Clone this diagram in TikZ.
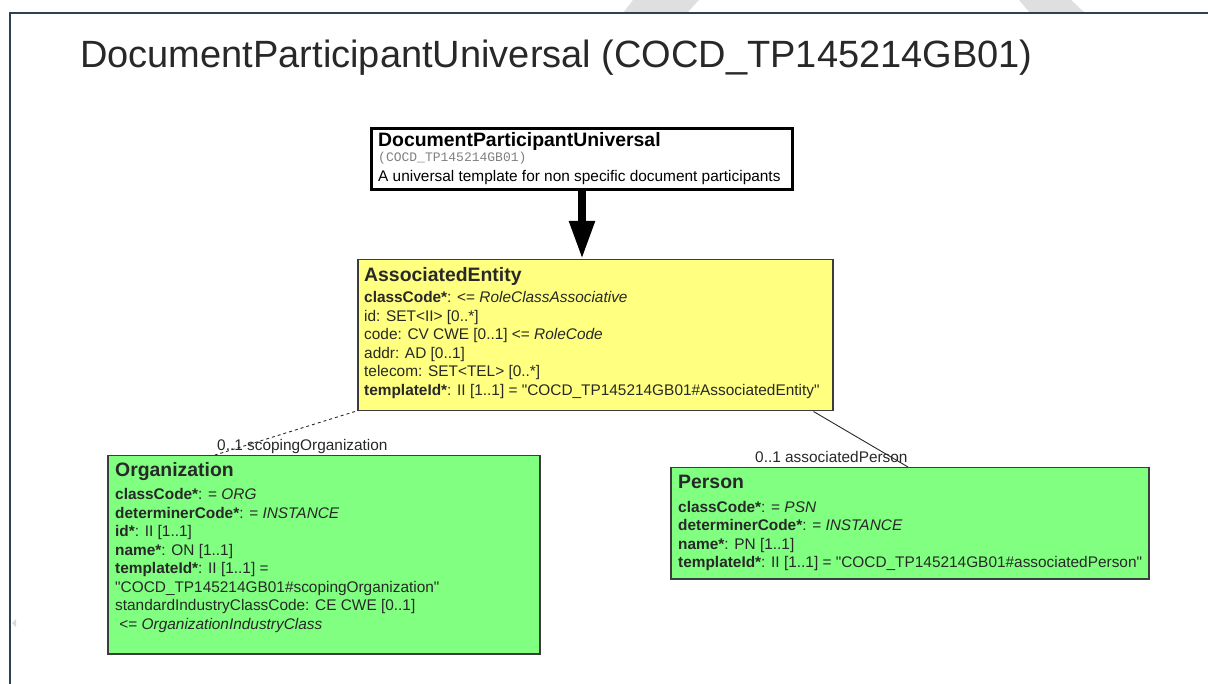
\documentclass[tikz,border=0pt]{standalone}
\usepackage{fontspec}
\setmainfont{Liberation Sans}[Ligatures=TeXOff]
\newfontfamily\monofont{Liberation Mono}
\usetikzlibrary{arrows.meta}

\definecolor{entyellow}{RGB}{255,255,128}
\definecolor{clsgreen}{RGB}{128,255,128}
\definecolor{boxedge}{RGB}{60,60,60}
\definecolor{frameblue}{RGB}{45,65,85}
\definecolor{inkgray}{RGB}{40,40,40}

\newcommand{\headfont}{\fontsize{19.4}{22}\selectfont\bfseries}
\newcommand{\bodyfont}{\fontsize{15.4}{18.5}\selectfont}

\begin{document}
\begin{tikzpicture}[
    x=1pt, y=-1pt,
    cls/.style={draw=boxedge, line width=1.5pt, anchor=north west, inner sep=0pt},
    tmpl/.style={draw=black, line width=3pt, fill=white, anchor=north west, inner sep=0pt},
    txt/.style={anchor=north west, inner sep=0pt, align=left, font=\bodyfont, text=inkgray},
    role/.style={font=\bodyfont, text=inkgray, inner sep=0pt, anchor=base west},
    assoc/.style={draw=inkgray, line width=0.9pt},
    derive/.style={-{Triangle[length=38pt, width=24pt]}, line width=8pt, black}
]
    \useasboundingbox (0,0) rectangle (1208,684);

    % --- Page frame and watermark ---
    \fill[gray!25] (633,0) -- (699,0) -- (687,13) -- (623,13) -- cycle;
    \fill[gray!25] (1019,0) -- (1071,0) -- (1085,13) -- (1030,13) -- cycle;
    \fill[gray!30] (12,623) -- (16,619) -- (16,627) -- cycle;
    \draw[frameblue, line width=1.3pt] (1208,13) -- (10,13) -- (10,684);

    % --- Title ---
    \node[anchor=base west, inner sep=0pt, text=inkgray,
          font=\fontsize{38}{40}\selectfont] (title) at (80,68)
          {DocumentParticipantUniversal (COCD\_TP145214GB01)};

    % --- Template box ---
    \node[tmpl, minimum width=421, minimum height=61] (dpu) at (370,127) {};
    \node[txt, text=black] (dpuTxt) at ([xshift=8pt, yshift=-5pt]dpu.north west)
        {{\headfont DocumentParticipantUniversal}\\[-3pt]
         {\monofont\fontsize{13}{15}\selectfont\color{gray}(COCD\_TP145214GB01)}\\[1pt]
         A universal template for non specific document participants};

    % --- AssociatedEntity ---
    \node[cls, fill=entyellow, minimum width=475, minimum height=151] (ent) at (357,259) {};
    \node[txt] (entTxt) at ([xshift=7pt, yshift=-8pt]ent.north west)
        {{\headfont AssociatedEntity}\\[3pt]
         \textbf{classCode*}: <= \textit{RoleClassAssociative}\\
         id: SET<II> [0..*]\\
         code: CV CWE [0..1] <= \textit{RoleCode}\\
         addr: AD [0..1]\\
         telecom: SET<TEL> [0..*]\\
         \textbf{templateId*}: II [1..1] = "COCD\_TP145214GB01\#AssociatedEntity"};

    % --- Organization ---
    \node[cls, fill=clsgreen, minimum width=432, minimum height=198] (org) at (107,455) {};
    \node[txt] (orgTxt) at ([xshift=8pt, yshift=-7pt]org.north west)
        {{\headfont Organization}\\[5pt]
         \textbf{classCode*}: = \textit{ORG}\\
         \textbf{determinerCode*}: = \textit{INSTANCE}\\
         \textbf{id*}: II [1..1]\\
         \textbf{name*}: ON [1..1]\\
         \textbf{templateId*}: II [1..1] =\\
         "COCD\_TP145214GB01\#scopingOrganization"\\
         standardIndustryClassCode: CE CWE [0..1]\\
         \ <= \textit{OrganizationIndustryClass}};

    % --- Person ---
    \node[cls, fill=clsgreen, minimum width=478, minimum height=111] (psn) at (670,467) {};
    \node[txt] (psnTxt) at ([xshift=8pt, yshift=-8pt]psn.north west)
        {{\headfont Person}\\[5pt]
         \textbf{classCode*}: = \textit{PSN}\\
         \textbf{determinerCode*}: = \textit{INSTANCE}\\
         \textbf{name*}: PN [1..1]\\
         \textbf{templateId*}: II [1..1] = "COCD\_TP145214GB01\#associatedPerson"};

    % --- Connectors ---
    \draw[derive] (dpu.south) -- (dpu.south |- ent.north);
    \draw[assoc, dashed] ([xshift=-2pt]ent.south west) -- ([xshift=108pt]org.north west);
    \draw[assoc] ([xshift=-20pt]ent.south east) -- ([xshift=238pt]psn.north west);

    % --- Role labels ---
    \node[role] (orgRole) at (217,451) {0..1 scopingOrganization};
    \node[role] (psnRole) at (755,463) {0..1 associatedPerson};

\end{tikzpicture}
\end{document}
